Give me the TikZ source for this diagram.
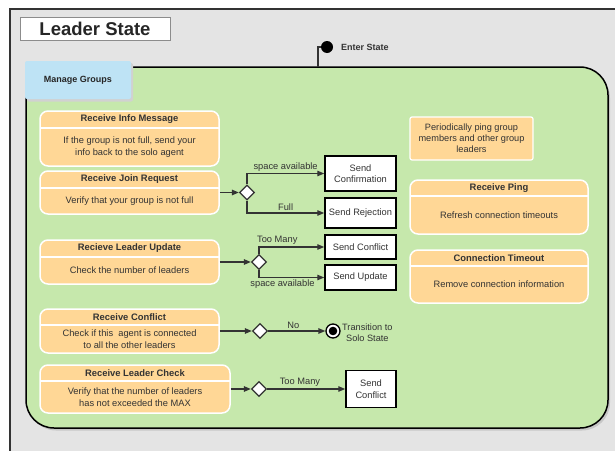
\documentclass[tikz,border=0pt]{standalone}
\usepackage{fontspec}
\setmainfont{Liberation Sans}
\usetikzlibrary{arrows.meta,shapes.geometric,fit}
\definecolor{bgray}{HTML}{E4E4E4}
\definecolor{gfill}{HTML}{C6E8AC}
\definecolor{ofill}{HTML}{FFD796}
\definecolor{bfill}{HTML}{BEE3F5}
\definecolor{txt}{HTML}{333333}
\tikzset{
  obox/.style={draw=white, fill=ofill, line width=1.5pt, rounded corners=8pt, inner sep=0pt},
  hdr/.style={font=\fontsize{9.4}{11}\bfseries\selectfont, text=txt, inner sep=0pt},
  bdy/.style={font=\fontsize{9.3}{11.5}\selectfont, text=txt, align=center, inner sep=0pt},
  dia/.style={diamond, draw=txt, fill=white, line width=1.3pt, minimum size=15pt, inner sep=0pt},
  sbox/.style={draw=black, fill=white, line width=1.5pt, inner sep=0pt, align=center, text=txt, font=\fontsize{9.3}{11.5}\selectfont},
  arr/.style={draw=txt, line width=1.3pt, -{Triangle[length=7pt,width=5.5pt]}},
  lbl/.style={font=\fontsize{9.3}{11}\selectfont, text=txt, inner sep=1.5pt},
}
\newcommand{\obx}[8]{%
  \node[obox, fit={(#2,#3)(#4,#5)}] (#1) {};
  \draw[white, line width=1.2pt] (#2,#6) -- (#4,#6);
  \node[hdr] (#1-h) at ({(#2+#4)/2},{(#3+#6)/2}) {#7};
  \node[bdy] (#1-b) at ({(#2+#4)/2},{(#6+#5)/2}) {#8};
}
\begin{document}
\begin{tikzpicture}[x=1pt,y=-1pt]
\useasboundingbox (0,0) rectangle (615,450);
\fill[white] (0,0) rectangle (615,450);
\begin{scope}
  \clip (0,0) rectangle (615,450);
  \draw[line width=2.3pt, draw=black!80, fill=bgray] (10,9) rectangle (640,480);
\end{scope}
% title
\node[draw=black!45, fill=white, line width=0.8pt, minimum width=150pt, minimum height=23pt, inner sep=0pt,
      font=\fontsize{18.5}{20}\bfseries\selectfont, text=black!85] (title) at (95,28.5) {Leader State};
% group box
\fill[black!22, rounded corners=28pt] (28,70) rectangle (610,430.5);
\node[draw=black, fill=gfill, line width=1.5pt, rounded corners=28pt, inner sep=0pt, fit={(26,67)(608,428)}] (grp) {};
% manage groups tab
\fill[black!18, rounded corners=2pt] (27,63) rectangle (133,101.5);
\node[fill=bfill, rounded corners=2pt, inner sep=0pt, minimum width=106pt, minimum height=38pt,
      font=\fontsize{9}{10}\bfseries\selectfont, text=black!85] (mg) at (78,80) {Manage Groups};
% enter state
\node[circle, fill=black, minimum size=12pt, inner sep=0pt] (start) at (327,47) {};
\node[anchor=west, font=\fontsize{9}{10}\bfseries\selectfont, text=txt, inner sep=0pt] (startl) at (341,47) {Enter State};
\coordinate (entry) at (318,67);
\draw[draw=txt, line width=1.3pt] (start.west) -| (entry);
% orange boxes
\obx{im}{40}{111}{219}{166}{128}{Receive Info Message}{If the group is not full, send your\\info back to the solo agent}
\obx{jr}{40}{171}{219}{214}{188}{Receive Join Request}{Verify that your group is not full}
\obx{lu}{40}{240}{219}{284}{257}{Recieve Leader Update}{Check the number of leaders}
\obx{rc}{40}{309}{219}{353}{325}{Receive Conflict}{Check if this~ agent is connected\\to all the other leaders}
\obx{lc}{40}{365}{230}{413}{381}{Receive Leader Check}{Verify that the number of leaders\\has not exceeded the MAX}
\obx{rp}{410}{180}{588}{234}{196}{Receive Ping}{Refresh connection timeouts}
\obx{ct}{410}{250}{588}{303}{266}{Connection Timeout}{Remove connection information}
\node[draw=white, fill=ofill, line width=1.2pt, rounded corners=2pt, minimum width=123pt, minimum height=43pt,
      inner sep=0pt, align=center, font=\fontsize{9.2}{11}\selectfont, text=txt] (pp) at (471.5,138.5)
      {Periodically ping group\\members and other group\\leaders};
% diamonds
\node[dia] (d1) at (247,192.5) {};
\node[dia] (d2) at (259,262) {};
\node[dia] (d3) at (260,331) {};
\node[dia] (d4) at (259,389) {};
% targets
\node[sbox, minimum width=71pt, minimum height=35pt] (sc) at (360.5,173.5) {Send\\Confirmation};
\node[sbox, minimum width=71pt, minimum height=30pt] (sr) at (360.5,213) {Send Rejection};
\node[sbox, minimum width=71pt, minimum height=24pt] (sf1) at (360.5,247) {Send Conflict};
\node[sbox, minimum width=71pt, minimum height=25pt] (su) at (360.5,277.5) {Send Update};
\node[sbox, minimum width=50pt, minimum height=37pt] (sf2) at (371,389) {Send\\Conflict};
\node[circle, draw=black, fill=white, line width=1.3pt, minimum size=14pt, inner sep=0pt] (fin) at (333,331) {};
\fill[black] (fin.center) circle (4.3pt);
\node[anchor=west, align=center, font=\fontsize{9.2}{11}\selectfont, text=txt, inner sep=0pt] (finl) at (342,333) {Transition to\\Solo State};
% connectors
\draw[arr] (jr.east) -- (d1.west);
\draw[arr] (d1.north) |- node[lbl, pos=0.75, above] {space available} (sc.west);
\draw[arr] (d1.south) |- node[lbl, pos=0.75, above] {Full} (sr.west);
\draw[arr] (lu.east) -- (d2.west);
\draw[arr] (d2.north) |- node[lbl, pos=0.64, above] {Too Many} (sf1.west);
\draw[arr] (d2.south) |- node[lbl, pos=0.68, below] {space available} (su.west);
\draw[arr] (rc.east) -- (d3.west);
\draw[arr] (d3.east) -- node[lbl, pos=0.44, above] {No} (fin.west);
\draw[arr] (lc.east) -- (d4.west);
\draw[arr] (d4.east) -- node[lbl, pos=0.42, above] {Too Many} (sf2.west);
\end{tikzpicture}
\end{document}
